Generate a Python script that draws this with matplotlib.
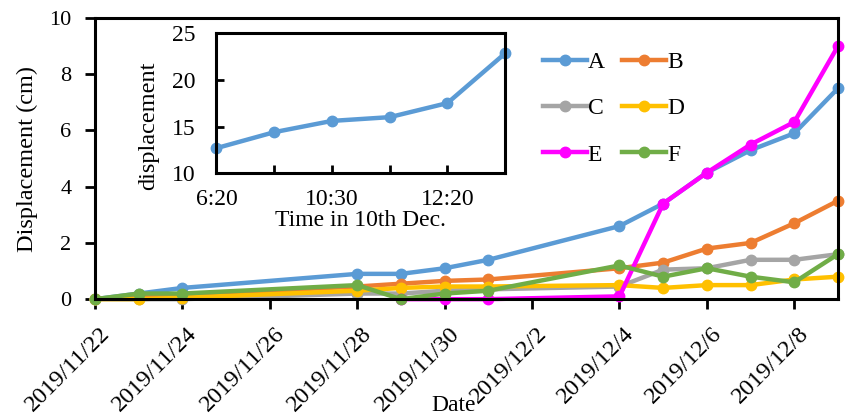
import numpy as np
import matplotlib
matplotlib.use("Agg")
import matplotlib.pyplot as plt
import matplotlib.dates as mdates
from matplotlib.ticker import FuncFormatter
from matplotlib.transforms import ScaledTranslation

plt.rcParams["font.family"] = ["Liberation Serif", "DejaVu Serif"]

# survey dates
dates = np.array(["2019-11-22", "2019-11-23", "2019-11-24", "2019-11-28",
                  "2019-11-29", "2019-11-30", "2019-12-01", "2019-12-04",
                  "2019-12-05", "2019-12-06", "2019-12-07", "2019-12-08",
                  "2019-12-09"], dtype="datetime64[D]")

# displacement (cm) per monitoring point
A = [0, 0.2, 0.4, 0.9, 0.9, 1.1, 1.4, 2.6, 3.4, 4.5, 5.3, 5.9, 7.5]
B = [0, 0.1, 0.15, 0.45, 0.55, 0.65, 0.7, 1.1, 1.3, 1.8, 2.0, 2.7, 3.5]
C = [0, 0, 0, 0.2, 0.2, 0.3, 0.35, 0.45, 1.05, 1.1, 1.4, 1.4, 1.6]
D = [0, 0, 0.05, 0.3, 0.4, 0.45, 0.45, 0.5, 0.4, 0.5, 0.5, 0.7, 0.8]
E = [np.nan, np.nan, np.nan, np.nan, 0, 0, 0, 0.1, 3.4, 4.5, 5.5, 6.3, 9.0]
F = [0, 0.2, 0.2, 0.5, 0, 0.2, 0.3, 1.2, 0.8, 1.1, 0.8, 0.6, 1.6]

series = {"A": A, "B": B, "C": C, "D": D, "E": E, "F": F}
colors = {"A": "#5B9BD5", "B": "#ED7D31", "C": "#A5A5A5",
          "D": "#FFC000", "E": "#FF00FF", "F": "#70AD47"}

# inset: point A on 10 Dec
inset_labels = ["6:20", "", "10:30", "", "12:20", ""]
inset_vals = [12.7, 14.4, 15.6, 16.0, 17.5, 22.8]

fig = plt.figure(figsize=(8.49, 4.19), dpi=100)
ax = fig.add_axes([0.112, 0.286, 0.875, 0.671])

x = mdates.date2num(dates.astype("datetime64[ms]").astype(object))
lines = {}
for name, vals in series.items():
    lines[name], = ax.plot(x, vals, "-o", color=colors[name], lw=3.2, ms=7.5,
                           label=name, clip_on=False)

x0 = mdates.date2num(np.datetime64("2019-11-22", "ms").astype(object))
x1 = mdates.date2num(np.datetime64("2019-12-09", "ms").astype(object))
ax.set_xlim(x0, x1)
ax.set_ylim(0, 10)
ax.set_yticks(range(0, 11, 2))
ax.set_xticks(np.arange(x0, x1, 2))


def fmt_date(v, pos):
    d = mdates.num2date(v)
    return "{}/{}/{}".format(d.year, d.month, d.day)


ax.xaxis.set_major_formatter(FuncFormatter(fmt_date))
ax.tick_params(axis="both", width=2, length=7, direction="out")
ax.tick_params(axis="y", labelsize=16, pad=10)
ax.tick_params(axis="x", labelsize=17.5, pad=10)
shift = ScaledTranslation(4 / 100, 0, fig.dpi_scale_trans)
for lab in ax.get_xticklabels():
    lab.set_rotation(45)
    lab.set_ha("right")
    lab.set_rotation_mode("anchor")
    lab.set_transform(lab.get_transform() + shift)
for s in ax.spines.values():
    s.set_linewidth(2.2)
ax.set_ylabel("Displacement (cm)", fontsize=17.5, labelpad=8)
ax.set_xlabel("Date", fontsize=17)
ax.xaxis.set_label_coords(0.483, -0.34)

# legend filled row by row: A B / C D / E F
order = ["A", "C", "E", "B", "D", "F"]
ax.legend([lines[k] for k in order], order, ncol=2, frameon=False, fontsize=17,
          loc="upper left", bbox_to_anchor=(0.59, 0.915), handlelength=1.85,
          handletextpad=0.05, columnspacing=0.75, labelspacing=1.05, borderaxespad=0)

ins = fig.add_axes([0.255, 0.586, 0.340, 0.336])
ins.plot(range(len(inset_vals)), inset_vals, "-o", color=colors["A"], lw=3.2, ms=7.5,
         clip_on=False)
ins.set_xlim(0, len(inset_vals) - 1)
ins.set_ylim(10, 25)
ins.set_yticks([10, 15, 20, 25])
ins.set_xticks(range(len(inset_labels)))
ins.set_xticklabels(inset_labels)
ins.tick_params(axis="both", labelsize=17, width=2, length=6, direction="in")
ins.tick_params(axis="y", pad=15)
ins.tick_params(axis="x", pad=11)
for s in ins.spines.values():
    s.set_linewidth(2.2)
ins.set_xlabel("Time in 10th Dec.", fontsize=17, labelpad=0)
ins.set_ylabel("displacement", fontsize=17.5)
ins.yaxis.set_label_coords(-0.2, 0.336)

fig.savefig("out.png", dpi=100)
